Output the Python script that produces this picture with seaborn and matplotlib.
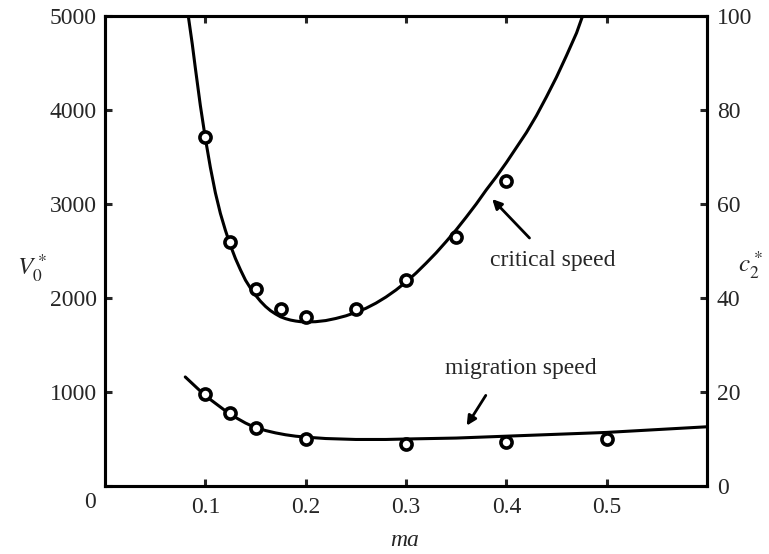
import numpy as np
import pandas as pd
import matplotlib
matplotlib.use("Agg")
import matplotlib.pyplot as plt
import seaborn as sns

# measured points (circles)
crit_ma = [0.1, 0.125, 0.15, 0.175, 0.2, 0.25, 0.3, 0.35, 0.4]
crit_V = [3710, 2600, 2095, 1880, 1800, 1885, 2195, 2645, 3250]

mig_ma = [0.1, 0.125, 0.15, 0.2, 0.3, 0.4, 0.5]
mig_c2 = [19.6, 15.5, 12.3, 10.0, 9.0, 9.3, 9.9]

# theoretical curves
crit_curve_ma = [0.083, 0.087, 0.09, 0.095, 0.1, 0.105, 0.11, 0.115, 0.12, 0.125,
                 0.13, 0.135, 0.14, 0.145, 0.15, 0.155, 0.16, 0.165, 0.17, 0.175,
                 0.18, 0.185, 0.19, 0.195, 0.2, 0.21, 0.22, 0.23, 0.24, 0.25,
                 0.26, 0.27, 0.28, 0.29, 0.3, 0.31, 0.32, 0.33, 0.34, 0.35,
                 0.36, 0.37, 0.38, 0.39, 0.4, 0.41, 0.42, 0.43, 0.44, 0.45,
                 0.46, 0.47, 0.476]
crit_curve_V = [5000, 4700, 4450, 4050, 3700, 3390, 3120, 2900, 2720, 2560,
                2420, 2300, 2190, 2105, 2030, 1965, 1910, 1865, 1830, 1800,
                1780, 1765, 1755, 1748, 1745, 1748, 1760, 1782, 1810, 1847,
                1890, 1945, 2010, 2085, 2170, 2265, 2370, 2480, 2600, 2725,
                2860, 3000, 3150, 3290, 3440, 3600, 3760, 3940, 4140, 4350,
                4580, 4820, 5000]

mig_curve_ma = [0.08, 0.085, 0.09, 0.095, 0.1, 0.105, 0.11, 0.115, 0.12, 0.125,
                0.13, 0.135, 0.14, 0.145, 0.15, 0.16, 0.17, 0.18, 0.19, 0.2,
                0.22, 0.25, 0.28, 0.3, 0.35, 0.4, 0.45, 0.5, 0.55, 0.6]
mig_curve_c2 = [23.2, 22.2, 21.2, 20.2, 19.3, 18.4, 17.6, 16.8, 16.0, 15.3,
                14.6, 14.0, 13.4, 12.9, 12.5, 11.8, 11.3, 10.9, 10.6, 10.4,
                10.1, 9.9, 9.9, 10.0, 10.2, 10.6, 11.0, 11.4, 12.0, 12.6]

x_ticks = [0.1, 0.2, 0.3, 0.4, 0.5]
left_ticks = [0, 1000, 2000, 3000, 4000, 5000]
right_ticks = [0, 20, 40, 60, 80, 100]

sns.set_style("ticks")
plt.rcParams["font.family"] = ["Liberation Serif", "DejaVu Serif"]
plt.rcParams["mathtext.fontset"] = "stix"
plt.rcParams["axes.linewidth"] = 2.2
plt.rcParams["axes.edgecolor"] = "black"

fig = plt.figure(figsize=(7.69, 5.54), dpi=100)
ax = fig.add_axes([105 / 769, (554 - 486) / 554, 602 / 769, 470 / 554])
ax2 = ax.twinx()

df_cc = pd.DataFrame({"ma": crit_curve_ma, "V": crit_curve_V})
df_cp = pd.DataFrame({"ma": crit_ma, "V": crit_V})
df_mc = pd.DataFrame({"ma": mig_curve_ma, "c2": mig_curve_c2})
df_mp = pd.DataFrame({"ma": mig_ma, "c2": mig_c2})

sns.lineplot(data=df_cc, x="ma", y="V", ax=ax, color="black", lw=2.2, sort=False,
             solid_joinstyle="round")
ax.plot(df_cp["ma"], df_cp["V"], "o", mfc="white", mec="black", ms=8, mew=2.6)
sns.lineplot(data=df_mc, x="ma", y="c2", ax=ax2, color="black", lw=2.2, sort=False,
             solid_joinstyle="round")
ax2.plot(df_mp["ma"], df_mp["c2"], "o", mfc="white", mec="black", ms=8, mew=2.6)

ax.set_xlim(0, 0.6)
ax.set_ylim(0, 5000)
ax2.set_ylim(0, 100)

fs = 17
ax.set_xticks(x_ticks)
ax.set_xticklabels([f"{t:.1f}" for t in x_ticks], fontsize=fs)
ax.set_yticks(left_ticks)
ax.set_yticklabels([""] + [str(t) for t in left_ticks[1:]], fontsize=fs)
ax2.set_yticks(right_ticks)
ax2.set_yticklabels([str(t) for t in right_ticks], fontsize=fs)
ax.tick_params(axis="x", direction="in", length=5, width=2.2, top=True, pad=8)
ax.tick_params(axis="y", direction="in", length=5, width=2.2, pad=6)
ax2.tick_params(axis="y", direction="in", length=5, width=2.2, pad=7)

ax.set_xlabel("")
ax.set_ylabel("")
ax2.set_ylabel("")
fig.text(90 / 769, 1 - 503 / 554, "0", fontsize=fs, ha="center", va="center")
fig.text(405 / 769, 1 - 540 / 554, "ma", fontsize=fs, style="italic", ha="center", va="center")
fig.text(32 / 769, 1 - 268 / 554, r"$V_0^*$", fontsize=fs + 1, ha="center", va="center")
fig.text(750 / 769, 1 - 265 / 554, r"$c_2^*$", fontsize=fs + 1, ha="center", va="center")

ax.annotate("", xy=(0.384, 3074), xytext=(0.425, 2617),
            arrowprops=dict(arrowstyle="-|>", color="black", lw=2, mutation_scale=14))
ax.text(0.384, 2400, "critical speed", fontsize=fs, ha="left", va="center")
ax.annotate("", xy=(0.359, 617), xytext=(0.381, 989),
            arrowprops=dict(arrowstyle="-|>", color="black", lw=2, mutation_scale=14))
ax.text(0.414, 1255, "migration speed", fontsize=fs, ha="center", va="center")

for a in (ax, ax2):
    for s in a.spines.values():
        s.set_visible(True)
        s.set_linewidth(2.2)

fig.savefig("out.png", dpi=100)
